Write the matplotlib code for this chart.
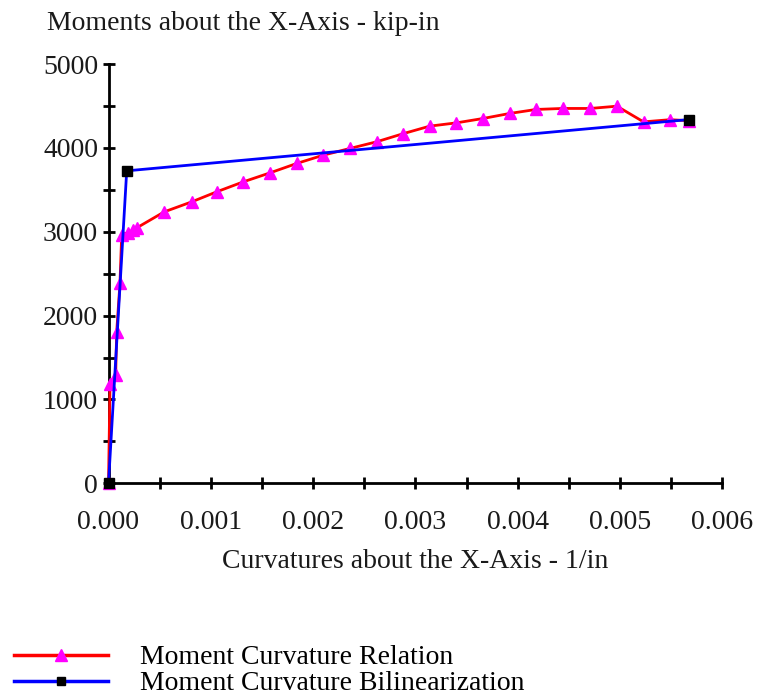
import matplotlib
matplotlib.use("Agg")
import matplotlib.pyplot as plt
from matplotlib.ticker import MultipleLocator, FormatStrFormatter
from matplotlib.lines import Line2D

# Data
curv_rel = [0.0, 0.000015, 0.00007, 0.00008, 0.000112, 0.000129, 0.000194, 0.000242,
            0.000276, 0.000545, 0.000813, 0.001058, 0.001318, 0.001579, 0.00184,
            0.0021, 0.00236, 0.00262, 0.00288, 0.00314, 0.0034, 0.00366, 0.00392,
            0.00418, 0.00444, 0.00471, 0.00497, 0.00523, 0.00549, 0.00567]
moment_rel = [0, 1190, 1290, 1807, 2384, 2965, 2990, 3020, 3046, 3237, 3356, 3476,
              3595, 3702, 3814, 3913, 3993, 4072, 4169, 4259, 4298, 4350, 4410,
              4458, 4470, 4470, 4497, 4310, 4336, 4324]

curv_bi = [0.0, 0.000178, 0.005677]
moment_bi = [0, 3726, 4338]

title = "Moments about the X-Axis - kip-in"
xlabel = "Curvatures about the X-Axis - 1/in"
legend_labels = ["Moment Curvature Relation", "Moment Curvature Bilinearization"]

plt.rcParams['font.family'] = ['Liberation Serif', 'DejaVu Serif']

W, H = 763, 698
FS = 20
fig = plt.figure(figsize=(W / 100, H / 100), dpi=100)
ax = fig.add_axes([108.5 / W, 1 - 483.3 / H, (722.3 - 108.5) / W, (483.3 - 64) / H])

ax.plot(curv_rel, moment_rel, color='#ff0000', lw=2.0, marker='^', ms=9,
        mfc='#ff00ff', mec='#ff00ff', clip_on=False, zorder=3)
ax.plot(curv_bi, moment_bi, color='#0000ff', lw=2.0, zorder=4, clip_on=False)
ax.plot(curv_bi, moment_bi, ls='none', marker='s', ms=6.5, mfc='black', mec='black',
        zorder=5, clip_on=False)

ax.set_xlim(0, 0.006)
ax.set_ylim(0, 5000)
for s in ['top', 'right']:
    ax.spines[s].set_visible(False)
for s in ['left', 'bottom']:
    ax.spines[s].set_linewidth(2)
    ax.spines[s].set_color('black')

ax.xaxis.set_major_locator(MultipleLocator(0.001))
ax.xaxis.set_minor_locator(MultipleLocator(0.0005))
ax.yaxis.set_major_locator(MultipleLocator(1000))
ax.yaxis.set_minor_locator(MultipleLocator(500))
ax.xaxis.set_major_formatter(FormatStrFormatter('%.3f'))
ax.yaxis.set_major_formatter(FormatStrFormatter('%d'))

ax.tick_params(which='both', direction='inout', length=9, width=2, color='black',
               labelsize=FS, labelcolor='#1a1a1a')
ax.tick_params(axis='x', which='major', pad=15)
ax.tick_params(axis='y', which='major', pad=3)

fig.text(47 / W, 1 - 23 / H, title, fontsize=FS, ha='left', va='center', color='#1a1a1a')
fig.text(415 / W, 1 - 561 / H, xlabel, fontsize=FS, ha='center', va='center', color='#1a1a1a')

handles = [
    Line2D([], [], color='#ff0000', lw=2.5, marker='^', ms=9, mfc='#ff00ff', mec='#ff00ff'),
    Line2D([], [], color='#0000ff', lw=2.5, marker='s', ms=6, mfc='black', mec='black'),
]
fig.legend(handles, legend_labels, loc='upper left', bbox_to_anchor=(0.0, 1 - 631 / H),
           frameon=False, fontsize=FS, numpoints=1, handlelength=3.4,
           handletextpad=1.15, labelspacing=0.02, borderaxespad=0, borderpad=0.5)

fig.savefig("out.png", dpi=100)
